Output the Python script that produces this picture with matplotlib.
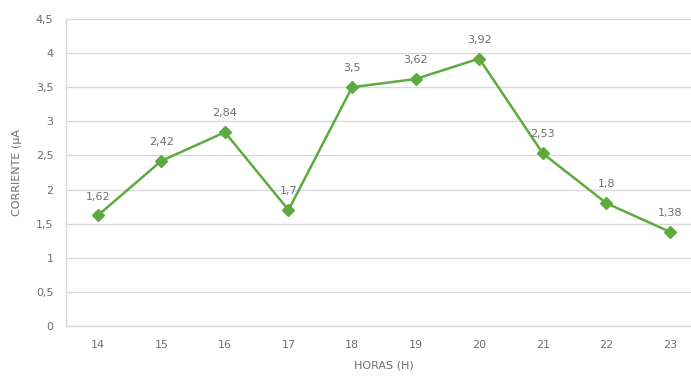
import matplotlib.pyplot as plt
from matplotlib.ticker import FuncFormatter

horas = [14, 15, 16, 17, 18, 19, 20, 21, 22, 23]
corriente = [1.62, 2.42, 2.84, 1.7, 3.5, 3.62, 3.92, 2.53, 1.8, 1.38]
etiquetas = ['1,62', '2,42', '2,84', '1,7', '3,5', '3,62', '3,92', '2,53', '1,8', '1,38']

verde = '#5DAB3F'
gris_txt = '#6E6E6E'
gris_rej = '#D9D9D9'

fig = plt.figure(figsize=(6.91, 3.76), dpi=100)
ax = fig.add_axes([0.0955, 0.133, 0.92, 0.8165])

x = list(range(len(horas)))
ax.plot(x, corriente, color=verde, linewidth=1.8, marker='D', markersize=6.5,
        markerfacecolor=verde, markeredgecolor=verde)

for xi, yi, t in zip(x, corriente, etiquetas):
    ax.annotate(t, (xi, yi), xytext=(0, 10), textcoords='offset points',
                ha='center', va='bottom', fontsize=8, color=gris_txt)

ax.set_xlim(-0.5, len(horas) - 0.5)
ax.set_ylim(0, 4.5)
ax.set_xticks(x)
ax.set_xticklabels([str(h) for h in horas])
ax.set_yticks([i * 0.5 for i in range(10)])
ax.yaxis.set_major_formatter(FuncFormatter(lambda v, p: ('%g' % v).replace('.', ',')))

ax.grid(axis='y', color=gris_rej, linewidth=1)
ax.set_axisbelow(True)
for s in ['top', 'right']:
    ax.spines[s].set_visible(False)
for s in ['left', 'bottom']:
    ax.spines[s].set_color(gris_rej)
    ax.spines[s].set_linewidth(1)
ax.tick_params(length=0, labelsize=8, colors=gris_txt, pad=10)
ax.tick_params(axis='y', pad=9)

ax.set_xlabel('HORAS (H)', fontsize=8, color=gris_txt, labelpad=8)
ax.set_ylabel('CORRIENTE (μA', fontsize=8, color=gris_txt, labelpad=10)

fig.savefig('out.png', dpi=100)
